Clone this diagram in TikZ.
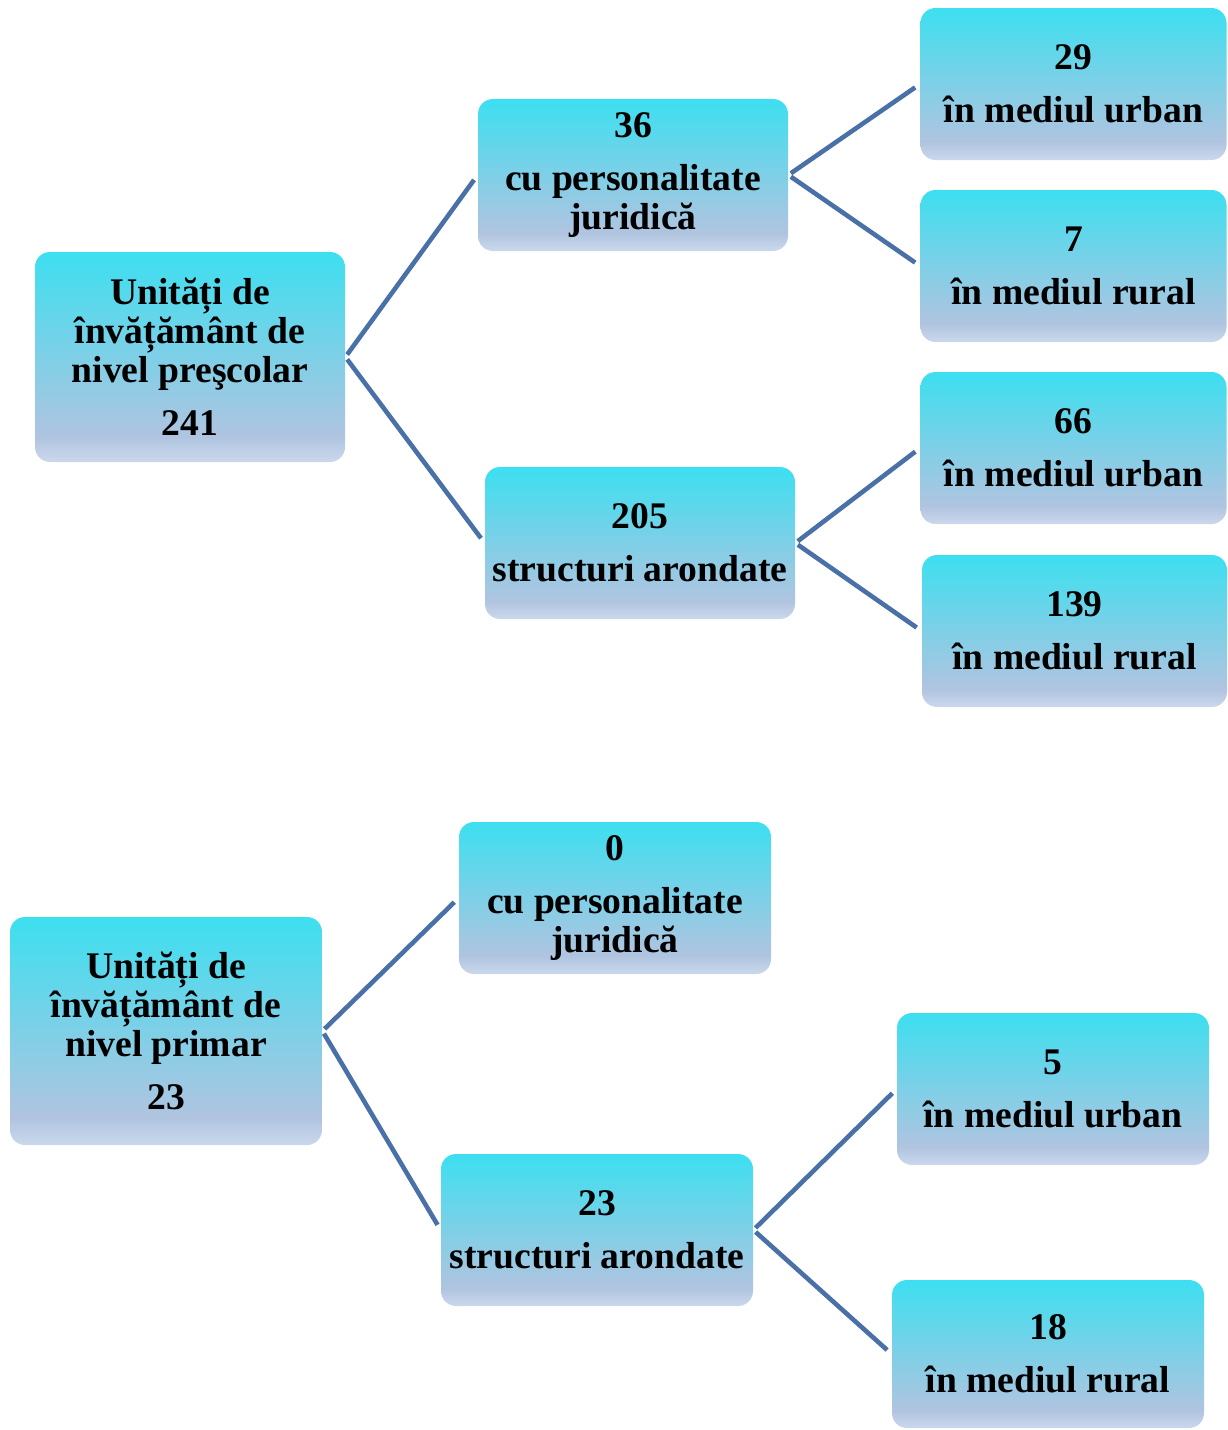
\documentclass[tikz,border=0pt]{standalone}
\usepackage{fontspec}
\setmainfont{Liberation Serif}

\definecolor{boxtop}{HTML}{3CDFF0}
\definecolor{boxlow}{HTML}{B0C4E0}
\definecolor{boxbase}{HTML}{CAD8EC}
\definecolor{linkblue}{HTML}{4A70A8}

\pgfdeclareverticalshading{boxfade}{100bp}{color(0bp)=(boxbase); color(25bp)=(boxbase); color(31bp)=(boxlow); color(75bp)=(boxtop); color(100bp)=(boxtop)}

\tikzset{
	unit/.style = {shade, shading = boxfade, rounded corners = 7.5pt, minimum width = 155pt, minimum height = 76pt, inner sep = 0pt, align = center, font = \bfseries\fontsize{18.8}{19.5}\selectfont},
	link/.style = {draw = linkblue, line width = 2.3pt, shorten < = 1.5pt, shorten > = 3pt}
}

\begin{document}
\begin{tikzpicture}[x = 0.5pt, y = -0.5pt]

	% Frame
	
	\useasboundingbox (0, 0) rectangle (1227, 1430);
	
	% Preschool level
	
	\node [unit, minimum height = 105pt] (pre) at (190, 357) {Unități de\\învățământ de\\nivel preşcolar\\[7pt]241};
	
	\node [unit] (prejur) at (633, 175) {36\\[7pt]cu personalitate\\juridică};
	\node [unit] (prestr) at (640, 543) {205\\[7pt]structuri arondate};
	
	\node [unit, minimum width = 153pt] (preurb) at (1073.5, 84) {29\\[7pt]în mediul urban};
	\node [unit, minimum width = 153pt] (prerur) at (1073.5, 266) {7\\[7pt]în mediul rural};
	\node [unit, minimum width = 153pt] (strurb) at (1073.5, 448) {66\\[7pt]în mediul urban};
	\node [unit, minimum width = 152.5pt] (strrur) at (1074.5, 631) {139\\[7pt]în mediul rural};
	
	\draw [link] (pre.east) -- (prejur.west);
	\draw [link] (pre.east) -- (prestr.west);
	\draw [link] (prejur.east) -- (preurb.west);
	\draw [link] (prejur.east) -- (prerur.west);
	\draw [link] (prestr.east) -- (strurb.west);
	\draw [link] (prestr.east) -- (strrur.west);
	
	% Primary level
	
	\node [unit, minimum width = 156pt, minimum height = 114pt] (pri) at (166, 1031) {Unități de\\învățământ de\\nivel primar\\[7pt]23};
	
	\node [unit, minimum width = 156pt] (prijur) at (615, 898) {0\\[7pt]cu personalitate\\juridică};
	\node [unit, minimum width = 156pt] (pristr) at (597, 1230) {23\\[7pt]structuri arondate};
	
	\node [unit, minimum width = 156pt] (priurb) at (1053, 1089) {5\\[7pt]în mediul urban};
	\node [unit, minimum width = 156pt, minimum height = 74pt] (prirur) at (1048, 1354) {18\\[7pt]în mediul rural};
	
	\draw [link] (pri.east) -- (prijur.west);
	\draw [link] (pri.east) -- (pristr.west);
	\draw [link] (pristr.east) -- (priurb.west);
	\draw [link] (pristr.east) -- (prirur.west);

\end{tikzpicture}
\end{document}
